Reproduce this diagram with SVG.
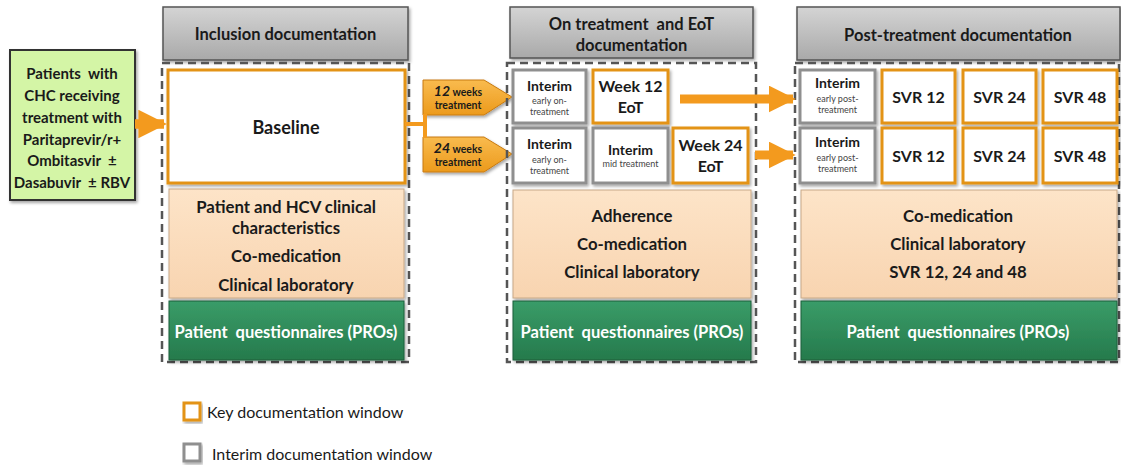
<svg xmlns="http://www.w3.org/2000/svg" width="1121" height="470" viewBox="0 0 1121 470">
<defs>
<linearGradient id="hdr" x1="0" y1="0" x2="0" y2="1"><stop offset="0" stop-color="#d4d4d4"/><stop offset="1" stop-color="#a9a9a9"/></linearGradient>
<linearGradient id="peach" x1="0" y1="0" x2="0" y2="1"><stop offset="0" stop-color="#fde4c8"/><stop offset="1" stop-color="#f8d4b0"/></linearGradient>
<linearGradient id="grn" x1="0" y1="0" x2="0" y2="1"><stop offset="0" stop-color="#3a9c68"/><stop offset="1" stop-color="#257a4c"/></linearGradient>
<linearGradient id="tag" x1="0" y1="0" x2="0" y2="1"><stop offset="0" stop-color="#f9bb4e"/><stop offset="1" stop-color="#ec9a1c"/></linearGradient>
<filter id="sh" x="-10%" y="-10%" width="125%" height="130%"><feDropShadow dx="1.5" dy="2" stdDeviation="1.5" flood-color="#000" flood-opacity="0.35"/></filter>
<marker id="ah" viewBox="0 0 10 10" refX="9" refY="5" markerWidth="3" markerHeight="3" orient="auto" markerUnits="strokeWidth"><path d="M0,0 L10,5 L0,10 z" fill="#f39a1e"/></marker>
</defs>
<style>
text{font-family:Lato,"Open Sans","Liberation Sans",sans-serif;font-weight:bold;fill:#1a1a1a;text-anchor:middle;white-space:pre}
.hdr{fill:url(#hdr);stroke:#555;stroke-width:1.5;filter:url(#sh)}
.cont{fill:none;stroke:#555;stroke-width:2.5;stroke-dasharray:8,5}
.key{fill:#fff;stroke:#e39316;stroke-width:3;filter:url(#sh)}
.int{fill:#fff;stroke:#8f8f8f;stroke-width:3;filter:url(#sh)}
.pch{fill:url(#peach);stroke:#c8a887;stroke-width:1;filter:url(#sh)}
.gb{fill:url(#grn);stroke:#1d5e3b;stroke-width:1;filter:url(#sh)}
.th{font-size:16.5px}
.tp{font-size:16.8px}
.tg{font-size:15px}
.t14{font-size:14px}
.t16{font-size:16px}
.sm{font-size:9px;font-weight:normal;fill:#444}
.wt{fill:#fff;font-size:16.5px}
.con{stroke:#f39a1e;fill:none}
.lg{font-size:16px;font-weight:normal;text-anchor:start}
</style>

<g id="patients">
<rect x="10" y="50" width="125" height="150" fill="#d4f5a6" stroke="#333" stroke-width="2" filter="url(#sh)"/>
<text class="tg" x="72" y="79">Patients  with</text>
<text class="tg" x="72" y="101">CHC receiving</text>
<text class="tg" x="72" y="123">treatment with</text>
<text class="tg" x="72" y="145">Paritaprevir/r+</text>
<text class="tg" x="72" y="166">Ombitasvir  ±</text>
<text class="tg" x="72" y="188">Dasabuvir  ± RBV</text>
</g>

<g id="inclusion">
<rect class="hdr" x="163" y="7" width="245" height="53"/>
<text class="th" x="285.5" y="40">Inclusion documentation</text>
<rect class="cont" x="162" y="63" width="247" height="299"/>
<rect class="key" x="168" y="70" width="237" height="113"/>
<text x="286" y="134" style="font-size:18px">Baseline</text>
<rect class="pch" x="169" y="189" width="235" height="109"/>
<text class="tp" x="286" y="213">Patient and HCV clinical</text>
<text class="tp" x="286" y="234">characteristics</text>
<text class="tp" x="286" y="262">Co-medication</text>
<text class="tp" x="286" y="291">Clinical laboratory</text>
<rect class="gb" x="169" y="301" width="235" height="59"/>
<text class="wt" x="286" y="338">Patient  questionnaires (PROs)</text>
</g>

<g id="tag12">
<path d="M423,80 L484,80 L512,97 L484,115 L423,115 z" fill="url(#tag)" stroke="#c87a10" stroke-width="1" filter="url(#sh)"/>
<text x="458" y="96" style="font-size:12px"><tspan font-style="italic" font-size="14">12</tspan><tspan font-size="10.5"> weeks</tspan></text>
<text x="458" y="109" style="font-size:10.5px">treatment</text>
</g>
<g id="tag24">
<path d="M423,137 L484,137 L512,154 L484,172 L423,172 z" fill="url(#tag)" stroke="#c87a10" stroke-width="1" filter="url(#sh)"/>
<text x="458" y="153" style="font-size:12px"><tspan font-style="italic" font-size="14">24</tspan><tspan font-size="10.5"> weeks</tspan></text>
<text x="458" y="166" style="font-size:10.5px">treatment</text>
</g>

<g id="ontreatment">
<rect class="hdr" x="510" y="7" width="243" height="51"/>
<text class="th" x="631.5" y="30">On treatment  and EoT</text>
<text class="th" x="631.5" y="51">documentation</text>
<rect class="cont" x="507" y="63" width="249" height="299"/>
<g id="int1"><rect class="int" x="513" y="70" width="73" height="53"/>
<text class="t14" x="549.5" y="91">Interim</text>
<text class="sm" x="549.5" y="104">early on-</text>
<text class="sm" x="549.5" y="115">treatment</text></g>
<g id="wk12"><rect class="key" x="593" y="70" width="75" height="53"/>
<text class="t16" x="630.5" y="92">Week 12</text>
<text class="t16" x="630.5" y="113">EoT</text></g>
<g id="int2"><rect class="int" x="513" y="128" width="73" height="55"/>
<text class="t14" x="549.5" y="149">Interim</text>
<text class="sm" x="549.5" y="163">early on-</text>
<text class="sm" x="549.5" y="174">treatment</text></g>
<g id="intmid"><rect class="int" x="593" y="128" width="75" height="55"/>
<text class="t14" x="630.5" y="155">Interim</text>
<text class="sm" x="630.5" y="167">mid treatment</text></g>
<g id="wk24"><rect class="key" x="673" y="128" width="75" height="55"/>
<text class="t16" x="710.5" y="151">Week 24</text>
<text class="t16" x="710.5" y="172">EoT</text></g>
<rect class="pch" x="513" y="190" width="238" height="108"/>
<text class="tp" x="632" y="222">Adherence</text>
<text class="tp" x="632" y="250">Co-medication</text>
<text class="tp" x="632" y="278">Clinical laboratory</text>
<rect class="gb" x="513" y="301" width="238" height="59"/>
<text class="wt" x="632" y="338">Patient  questionnaires (PROs)</text>
</g>

<g id="posttreatment">
<rect class="hdr" x="797" y="7" width="323" height="53"/>
<text class="th" x="958" y="41">Post-treatment documentation</text>
<rect class="cont" x="795" y="63" width="324" height="299"/>
<g id="pint1"><rect class="int" x="800" y="70" width="75" height="53"/>
<text class="t14" x="837.5" y="88">Interim</text>
<text class="sm" x="837.5" y="102">early post-</text>
<text class="sm" x="837.5" y="113">treatment</text></g>
<g id="svr12a"><rect class="key" x="882" y="70" width="73" height="53"/><text class="t16" x="918.5" y="103">SVR 12</text></g>
<g id="svr24a"><rect class="key" x="963" y="70" width="73" height="53"/><text class="t16" x="999.5" y="103">SVR 24</text></g>
<g id="svr48a"><rect class="key" x="1043" y="70" width="74" height="53"/><text class="t16" x="1080" y="103">SVR 48</text></g>
<g id="pint2"><rect class="int" x="800" y="128" width="75" height="55"/>
<text class="t14" x="837.5" y="147">Interim</text>
<text class="sm" x="837.5" y="161">early post-</text>
<text class="sm" x="837.5" y="172">treatment</text></g>
<g id="svr12b"><rect class="key" x="882" y="128" width="73" height="55"/><text class="t16" x="918.5" y="162">SVR 12</text></g>
<g id="svr24b"><rect class="key" x="963" y="128" width="73" height="55"/><text class="t16" x="999.5" y="162">SVR 24</text></g>
<g id="svr48b"><rect class="key" x="1043" y="128" width="74" height="55"/><text class="t16" x="1080" y="162">SVR 48</text></g>
<rect class="pch" x="801" y="190" width="316" height="108"/>
<text class="tp" x="958" y="222">Co-medication</text>
<text class="tp" x="958" y="250">Clinical laboratory</text>
<text class="tp" x="958" y="278">SVR 12, 24 and 48</text>
<rect class="gb" x="801" y="301" width="316" height="59"/>
<text class="wt" x="958" y="338">Patient  questionnaires (PROs)</text>
</g>

<g id="connectors">
<line class="con" x1="135" y1="124" x2="164" y2="124" stroke-width="9.5" marker-end="url(#ah)"/>
<path class="con" d="M405,124 H425 M425,114 V138" stroke-width="4"/>
<line class="con" x1="680" y1="99" x2="793" y2="99" stroke-width="9" marker-end="url(#ah)"/>
<line class="con" x1="755" y1="155" x2="793" y2="155" stroke-width="9" marker-end="url(#ah)"/>
</g>

<g id="legend">
<rect x="184" y="403" width="16" height="17" fill="#fff" stroke="#e39316" stroke-width="3" filter="url(#sh)"/>
<text class="lg" x="207" y="418">Key documentation window</text>
<rect x="184" y="444" width="16" height="17" fill="#fff" stroke="#8f8f8f" stroke-width="3" filter="url(#sh)"/>
<text class="lg" x="212" y="460">Interim documentation window</text>
</g>
</svg>
